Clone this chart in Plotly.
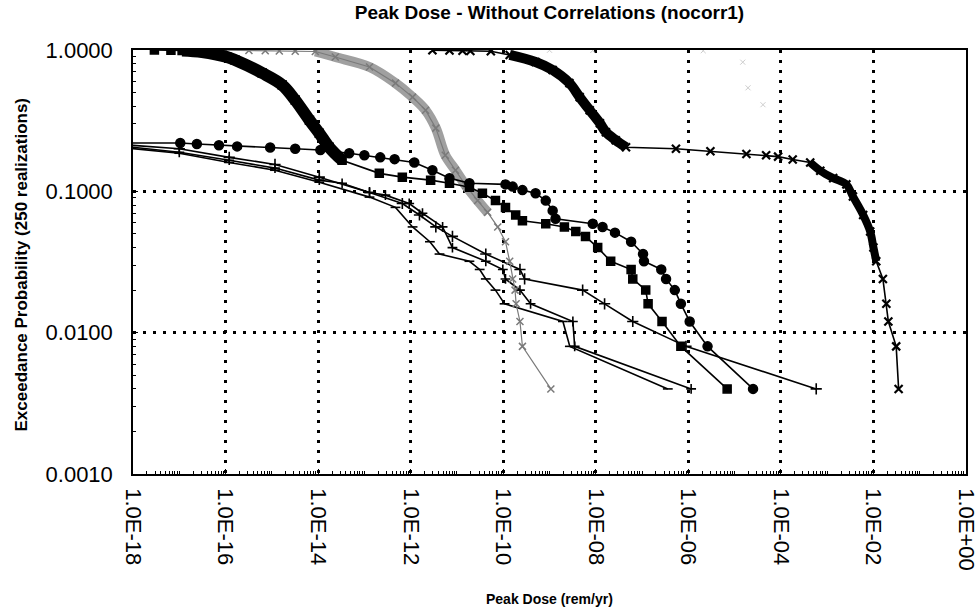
import plotly.graph_objects as go

# ---------------- data (dose in rem/yr, exceedance probability) ----------------
sq_dose = [2.9e-18, 6.6e-18, 1.15e-17, 3.1e-17, 1.07e-16, 1.6e-16, 6.2e-16, 1.68e-15, 3.2e-15,
           6.5e-15, 1.06e-14, 1.74e-14, 3.3e-14, 2.1e-13, 6.6e-13, 2.7e-12, 6.9e-12, 1.86e-11,
           3.55e-11, 6.8e-11, 1.12e-10, 1.86e-10, 2.6e-10, 8.3e-10, 2.1e-9, 3.7e-9, 6.0e-9,
           1.1e-8, 2.1e-8, 5.8e-8, 6.3e-8, 1.2e-7, 1.35e-7, 2.7e-7, 6.9e-7, 6.9e-6]
sq_prob = [1.0, 0.996, 0.992, 0.968, 0.892, 0.849, 0.687, 0.565, 0.442, 0.319, 0.258, 0.205,
           0.166, 0.134, 0.126, 0.12, 0.114, 0.107, 0.097, 0.086, 0.077, 0.068, 0.062, 0.059,
           0.056, 0.052, 0.048, 0.04, 0.032, 0.028, 0.024, 0.02, 0.016, 0.012, 0.008, 0.004]

circ_dose = [5e-19, 1.05e-17, 2.4e-17, 7.2e-17, 1.78e-16, 9.2e-16, 3.2e-15, 1.12e-14, 4.7e-14,
             1.0e-13, 2.2e-13, 4.5e-13, 1.2e-12, 2.95e-12, 6.9e-12, 1.86e-11, 1.12e-10, 1.6e-10,
             2.6e-10, 5.0e-10, 8.3e-10, 1.17e-9, 1.35e-9, 8.6e-9, 1.4e-8, 2.6e-8, 5.8e-8,
             1.05e-7, 1.1e-7, 2.6e-7, 3.3e-7, 5.1e-7, 6.9e-7, 1.07e-6, 2.6e-6, 2.5e-5]
circ_prob = [0.22, 0.22, 0.216, 0.212, 0.208, 0.204, 0.2, 0.196, 0.186, 0.18, 0.174, 0.169,
             0.16, 0.141, 0.124, 0.114, 0.112, 0.108, 0.102, 0.097, 0.086, 0.073, 0.064, 0.059,
             0.056, 0.051, 0.044, 0.036, 0.032, 0.028, 0.024, 0.02, 0.016, 0.012, 0.008, 0.004]

gray_dose = [8.5e-17, 3.2e-16, 7.2e-16, 1.45e-15, 3.2e-15, 8.7e-15, 2.35e-14, 1.29e-13, 4.7e-13,
             1.1e-12, 2.1e-12, 3.5e-12, 5.6e-12, 9.3e-12, 1.55e-11, 2.8e-11, 4.6e-11, 7.6e-11,
             1.12e-10, 1.38e-10, 1.6e-10, 1.8e-10, 1.9e-10, 2.3e-10, 2.6e-10, 1.07e-9]
gray_prob = [0.996, 0.992, 0.988, 0.984, 0.98, 0.976, 0.892, 0.758, 0.583, 0.464, 0.375, 0.28,
             0.18, 0.141, 0.11, 0.086, 0.071, 0.056, 0.044, 0.032, 0.024, 0.02, 0.016, 0.012,
             0.008, 0.004]

c_dose = [2.95e-12, 6.9e-12, 1.32e-11, 1.95e-11, 5.4e-11, 1.38e-10, 5.0e-10, 1.17e-9, 2.7e-9,
          4.5e-9, 7.4e-9, 1.23e-8, 1.66e-8, 2.7e-8, 4.5e-8, 5.4e-7, 3.0e-6, 1.8e-5, 4.8e-5,
          8.7e-5, 1.8e-4, 4.3e-4, 7.1e-4, 1.35e-3, 2.6e-3, 3.6e-3, 6.0e-3, 8.5e-3, 1.0e-2,
          1.15e-2, 1.6e-2, 1.9e-2, 2.1e-2, 3.1e-2, 3.5e-2]
c_prob = [0.996, 0.992, 0.988, 0.984, 0.98, 0.922, 0.822, 0.721, 0.583, 0.464, 0.375, 0.303,
          0.262, 0.23, 0.205, 0.2, 0.192, 0.184, 0.18, 0.176, 0.168, 0.16, 0.14, 0.124, 0.112,
          0.092, 0.068, 0.052, 0.04, 0.032, 0.024, 0.016, 0.012, 0.008, 0.004]

p3_dose = [5e-19, 1.0e-17, 1.2e-16, 1.17e-15, 1.06e-14, 1.29e-13, 6.6e-13, 1.55e-12, 3.5e-12,
           8.0e-12, 4.2e-11, 2.3e-10, 2.9e-10, 5.2e-9, 1.55e-8, 6.3e-8, 8.9e-7, 5.8e-4]
p3_prob = [0.215, 0.2, 0.174, 0.155, 0.126, 0.098, 0.082, 0.068, 0.056, 0.048, 0.036, 0.028,
           0.024, 0.02, 0.016, 0.012, 0.008, 0.004]

p2_dose = [5e-19, 1.0e-17, 1.2e-16, 1.17e-15, 1.06e-14, 3.3e-14, 1.29e-13, 2.85e-13, 9.3e-13,
           1.8e-12, 4.9e-12, 8.0e-12, 4.2e-11, 9.8e-11, 1.12e-10, 2.3e-10, 3.9e-10, 3.2e-9,
           3.5e-9, 1.15e-6]
p2_prob = [0.21, 0.189, 0.166, 0.146, 0.12, 0.114, 0.098, 0.094, 0.082, 0.07, 0.056, 0.04,
           0.032, 0.028, 0.024, 0.02, 0.016, 0.012, 0.008, 0.004]

p1_dose = [5e-19, 1.0e-17, 1.2e-16, 1.17e-15, 1.06e-14, 1.29e-13, 4.7e-13, 1.1e-12, 2.6e-12,
           4.2e-12, 1.86e-11, 3.1e-11, 4.2e-11, 6.8e-11, 1.07e-10, 1.95e-9, 2.75e-9, 3.6e-7]
p1_prob = [0.205, 0.186, 0.16, 0.141, 0.116, 0.091, 0.077, 0.056, 0.044, 0.036, 0.032, 0.028,
           0.024, 0.02, 0.016, 0.012, 0.008, 0.004]

light_dose = [1.0e-9, 8.6e-9, 2.1e-6, 1.5e-5, 1.95e-5, 4.1e-5]
light_prob = [0.996, 0.992, 0.988, 0.82, 0.54, 0.41]

x_tickvals = [1e-18, 1e-16, 1e-14, 1e-12, 1e-10, 1e-8, 1e-6, 1e-4, 1e-2, 1e0]
x_ticktext = ["1.0E-18", "1.0E-16", "1.0E-14", "1.0E-12", "1.0E-10",
              "1.0E-08", "1.0E-06", "1.0E-04", "1.0E-02", "1.0E+00"]
y_tickvals = [0.001, 0.01, 0.1, 1.0]
y_ticktext = ["0.0010", "0.0100", "0.1000", "1.0000"]

title_text = "Peak Dose - Without Correlations (nocorr1)"
x_title = "Peak Dose (rem/yr)"
y_title = "Exceedance Probability (250 realizations)"

FONT = "Liberation Sans, Arial, sans-serif"
fig = go.Figure()


def add_series(dose, prob, color, lw, symbol, msize, mline=1.5, dense=None, dense_w=9,
               dense_color=None):
    if dense is not None:
        a, b = dense
        fig.add_trace(go.Scatter(x=dose[a:b + 1], y=prob[a:b + 1], mode="lines",
                                 line=dict(color=dense_color or color, width=dense_w,
                                           shape="spline"),
                                 hoverinfo="skip", showlegend=False))
    fig.add_trace(go.Scatter(x=dose, y=prob, mode="lines+markers",
                             line=dict(color=color, width=lw),
                             marker=dict(symbol=symbol, size=msize, color=color,
                                         line=dict(color=color, width=mline)),
                             showlegend=False))


add_series(p1_dose, p1_prob, "black", 1.6, "line-ew-open", 7, 1.6)
add_series(p2_dose, p2_prob, "black", 1.6, "cross-thin-open", 7, 1.6)
add_series(p3_dose, p3_prob, "black", 1.6, "cross-thin-open", 8, 1.6)
add_series(gray_dose, gray_prob, "#7a7a7a", 1.2, "x-thin-open", 7, 1.5,
           dense=(5, 16), dense_w=10, dense_color="#a0a0a0")
add_series(circ_dose, circ_prob, "black", 1.6, "circle", 9)
add_series(sq_dose, sq_prob, "black", 1.6, "square", 8, dense=(2, 12), dense_w=12)
add_series(c_dose, c_prob, "black", 1.6, "x-thin-open", 8, 2.2,
           dense=(5, 14), dense_w=10)
fig.add_trace(go.Scatter(x=c_dose[21:30], y=c_prob[21:30], mode="lines",
                         line=dict(color="black", width=8, shape="spline"),
                         hoverinfo="skip", showlegend=False))
fig.add_trace(go.Scatter(x=light_dose, y=light_prob, mode="markers",
                         marker=dict(symbol="x-thin-open", size=5, color="#cccccc",
                                     line=dict(color="#cccccc", width=1)),
                         showlegend=False))

grid = dict(showgrid=True, gridcolor="black", gridwidth=2.5, griddash="3px,7px")

fig.update_xaxes(type="log", range=[-18, 0], tickvals=x_tickvals, ticktext=x_ticktext,
                 tickangle=90, ticks="inside", ticklen=5, tickcolor="black",
                 showline=True, linecolor="black", linewidth=1.5, mirror=True,
                 tickfont=dict(family=FONT, size=22, color="black"),
                 ticklabelstandoff=8, automargin=False,
                 minor=dict(ticks="inside", ticklen=3, dtick="D1", tickcolor="black",
                            showgrid=False),
                 zeroline=False, **grid)
fig.update_yaxes(type="log", range=[-3, 0], tickvals=y_tickvals, ticktext=y_ticktext,
                 ticks="inside", ticklen=5, tickcolor="black",
                 showline=True, linecolor="black", linewidth=1.5, mirror=True,
                 tickfont=dict(family=FONT, size=22, color="black"),
                 ticklabelstandoff=14, automargin=False,
                 minor=dict(ticks="inside", ticklen=3, dtick="D1", tickcolor="black",
                            showgrid=False),
                 zeroline=False, **grid)

fig.update_layout(
    width=979, height=612,
    margin=dict(l=133, r=13, t=50, b=138, autoexpand=False),
    paper_bgcolor="white", plot_bgcolor="white",
    title=dict(text="<b>" + title_text + "</b>", x=0.5, xanchor="center", xref="paper",
               y=0.99, yanchor="top", yref="container",
               font=dict(family=FONT, size=19, color="black")),
    annotations=[
        dict(text="<b>" + x_title + "</b>", xref="paper", yref="paper", x=0.5, y=-0.295,
             xanchor="center", yanchor="middle", showarrow=False,
             font=dict(family=FONT, size=14, color="black")),
        dict(text="<b>" + y_title + "</b>", xref="paper", yref="paper", x=-0.134, y=0.495,
             xanchor="center", yanchor="middle", textangle=-90, showarrow=False,
             font=dict(family=FONT, size=17, color="black")),
    ],
)

fig.write_html("out.html")
